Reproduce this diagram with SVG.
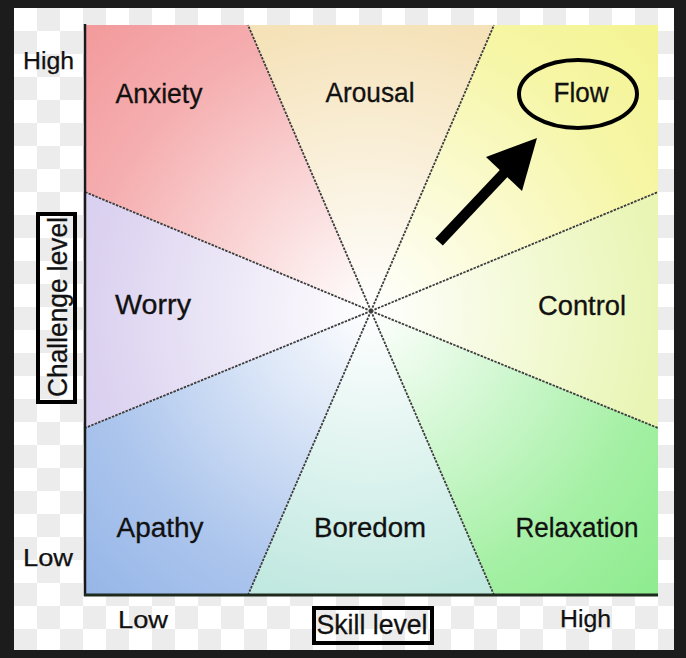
<svg xmlns="http://www.w3.org/2000/svg" width="686" height="658" viewBox="0 0 686 658">
<defs>
<pattern id="checker" x="14" y="8" width="46" height="46" patternUnits="userSpaceOnUse">
<rect width="46" height="46" fill="#ffffff"/>
<rect x="23" y="0" width="23" height="23" fill="#ececec"/>
<rect x="0" y="23" width="23" height="23" fill="#ececec"/>
</pattern>
<radialGradient id="glow" cx="371" cy="311" r="404" gradientUnits="userSpaceOnUse">
<stop offset="0" stop-color="#ffffff" stop-opacity="1"/>
<stop offset="0.35" stop-color="#ffffff" stop-opacity="0.6"/>
<stop offset="0.7" stop-color="#ffffff" stop-opacity="0.2"/>
<stop offset="1" stop-color="#ffffff" stop-opacity="0"/>
</radialGradient>
<style>
.lbl{font-family:"Liberation Sans",Arial,sans-serif;font-size:27px;fill:#111;stroke:#111;stroke-width:0.3;text-anchor:middle}
.ax{font-family:"Liberation Sans",Arial,sans-serif;font-size:23px;fill:#111;stroke:#111;stroke-width:0.25;text-anchor:middle}
.div{stroke:#3c3c3c;stroke-width:1.8;stroke-dasharray:2.5 1.2;fill:none}
.box{fill:none;stroke:#000;stroke-width:4}
</style>
</defs>
<rect x="0" y="0" width="686" height="658" fill="#1c1c1c"/>
<rect x="14" y="8" width="660" height="642" fill="url(#checker)"/>

<g id="anxiety"><polygon points="371,311 248,25 85,25 85,192" fill="#f39a9c"/></g>
<g id="arousal"><polygon points="371,311 494,25 248,25" fill="#f3dcaa"/></g>
<g id="flow"><polygon points="371,311 658,192 658,25 494,25" fill="#f4f492"/></g>
<g id="control"><polygon points="371,311 658,428 658,192" fill="#e4f3a4"/></g>
<g id="relaxation"><polygon points="371,311 494,595 658,595 658,428" fill="#8eec8e"/></g>
<g id="boredom"><polygon points="371,311 248,595 494,595" fill="#b4e4da"/></g>
<g id="apathy"><polygon points="371,311 85,428 85,595 248,595" fill="#96b6e8"/></g>
<g id="worry"><polygon points="371,311 85,192 85,428" fill="#d2c6ec"/></g>
<rect x="85" y="25" width="573" height="570" fill="url(#glow)"/>

<g id="dividers">
<line class="div" x1="371" y1="311" x2="248" y2="25"/>
<line class="div" x1="371" y1="311" x2="494" y2="25"/>
<line class="div" x1="371" y1="311" x2="658" y2="192"/>
<line class="div" x1="371" y1="311" x2="658" y2="428"/>
<line class="div" x1="371" y1="311" x2="494" y2="595"/>
<line class="div" x1="371" y1="311" x2="248" y2="595"/>
<line class="div" x1="371" y1="311" x2="85" y2="428"/>
<line class="div" x1="371" y1="311" x2="85" y2="192"/>
</g>

<g id="axes">
<line x1="85" y1="24" x2="85" y2="596" stroke="#1a1a1a" stroke-width="2.5"/>
<line x1="84" y1="595" x2="658" y2="595" stroke="#1f2a1f" stroke-width="3"/>
</g>

<g id="labels">
<text class="lbl" x="159" y="103" textLength="87" lengthAdjust="spacingAndGlyphs">Anxiety</text>
<text class="lbl" x="370" y="102" textLength="89" lengthAdjust="spacingAndGlyphs">Arousal</text>
<text class="lbl" x="153" y="314" textLength="76" lengthAdjust="spacingAndGlyphs">Worry</text>
<text class="lbl" x="582" y="315" textLength="88" lengthAdjust="spacingAndGlyphs">Control</text>
<text class="lbl" x="160" y="537" textLength="87" lengthAdjust="spacingAndGlyphs">Apathy</text>
<text class="lbl" x="370" y="537" textLength="112" lengthAdjust="spacingAndGlyphs">Boredom</text>
<text class="lbl" x="577" y="537" textLength="123" lengthAdjust="spacingAndGlyphs">Relaxation</text>
</g>

<g id="flow-highlight">
<ellipse cx="578" cy="94" rx="59" ry="34" fill="none" stroke="#000" stroke-width="4"/>
<text class="lbl" x="581" y="102" textLength="55" lengthAdjust="spacingAndGlyphs">Flow</text>
</g>

<g id="connectors">
<line x1="439" y1="242" x2="506" y2="171" stroke="#000" stroke-width="10.5"/>
<polygon points="537,138 486,157 522,191" fill="#000"/>
</g>

<g id="axis-labels">
<text class="ax" x="48.5" y="69" textLength="51" lengthAdjust="spacingAndGlyphs">High</text>
<text class="ax" x="48" y="566" textLength="50" lengthAdjust="spacingAndGlyphs">Low</text>
<text class="ax" x="143" y="628" textLength="50" lengthAdjust="spacingAndGlyphs">Low</text>
<text class="ax" x="585.5" y="627" textLength="51" lengthAdjust="spacingAndGlyphs">High</text>
</g>

<g id="skill-level">
<rect class="box" x="314" y="608" width="118" height="35"/>
<text class="lbl" x="372" y="634" textLength="111" lengthAdjust="spacingAndGlyphs">Skill level</text>
</g>

<g id="challenge-level">
<rect class="box" x="38" y="214" width="37" height="188"/>
<text class="lbl" transform="translate(67,307) rotate(-90)" x="0" y="0" textLength="180" lengthAdjust="spacingAndGlyphs">Challenge level</text>
</g>
</svg>
